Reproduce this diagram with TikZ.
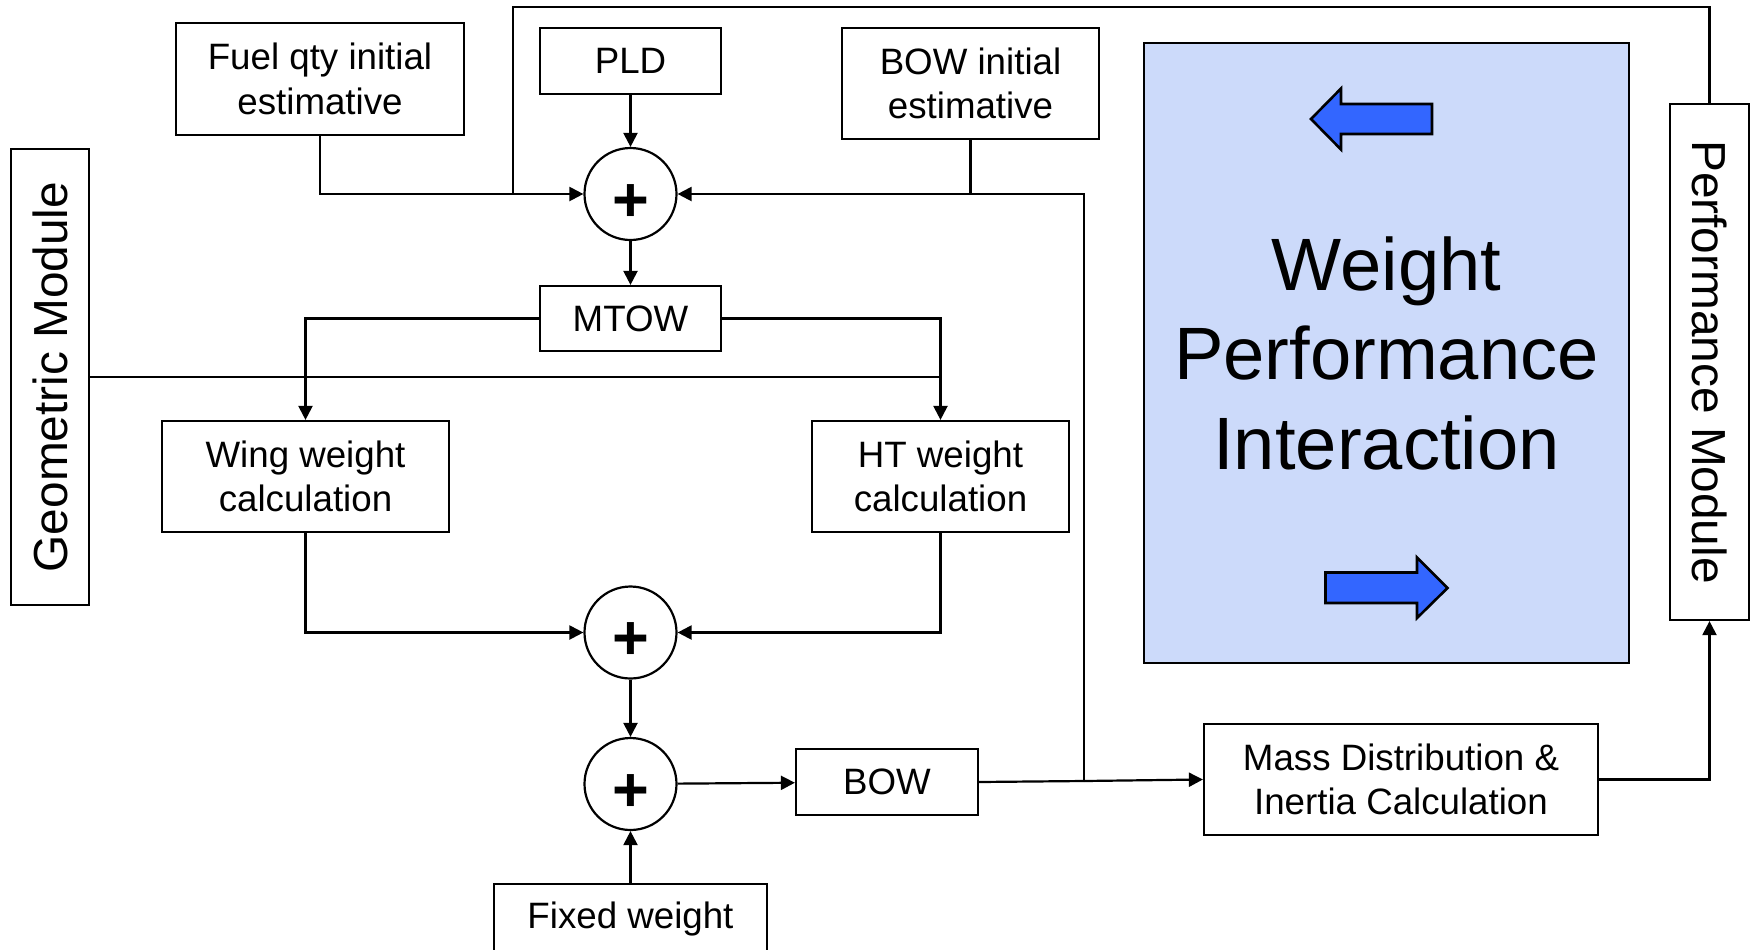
\documentclass[tikz,border=0pt]{standalone}
\usepackage{fontspec}
\setmainfont{Liberation Sans}
\usetikzlibrary{arrows.meta}

\definecolor{panelblue}{RGB}{204,218,250}
\definecolor{arrowblue}{RGB}{51,102,255}

\tikzset{
  box/.style={draw, line width=1.1pt, inner sep=0pt, align=center, fill=white,
              font=\fontsize{18.35}{22.35}\selectfont},
  module/.style={box, font=\fontsize{23.9}{28}\selectfont},
  sum/.style={draw, circle, line width=1.1pt, inner sep=0pt, minimum size=46pt, fill=white,
              font=\fontsize{31.5}{31.5}\selectfont\bfseries},
  conn/.style={line width=1.1pt},
  flow/.style={conn, -{Triangle[length=7pt,width=7pt]}},
  panel/.style={draw, line width=1.1pt, fill=panelblue, inner sep=0pt, align=center,
                font=\fontsize{37.1}{44.75}\selectfont},
  fatarrow/.style={draw=black, line width=1.3pt, fill=arrowblue, line join=miter},
}
% plus sign with zero height, lowered so it sits a little below the circle centre
\newcommand{\plussign}{\raisebox{-13.7pt}[0pt][0pt]{+}}

\begin{document}
\begin{tikzpicture}[x=0.5pt, y=-0.5pt]
\useasboundingbox (0,0) rectangle (1753,949);

% input boxes and summing junctions
\node[box, minimum width=144pt, minimum height=56pt] (fuel) at (320,79) {Fuel qty initial\\estimative};
\node[box, minimum width=90.5pt, minimum height=33pt] (pld) at (630.5,61) {PLD};
\node[box, minimum width=128.5pt, minimum height=55.5pt] (bowi) at (970.5,83.5) {BOW initial\\estimative};
\node[sum] (c1) at (630.5,194) {\plussign};
\node[box, minimum width=90.5pt, minimum height=32.5pt] (mtow) at (630.5,318.5) {MTOW};
\node[module, rotate=90, minimum width=228pt, minimum height=39pt] (geo) at (50,377) {Geometric Module};
\node[box, minimum width=143.5pt, minimum height=55.5pt] (wing) at (305.5,476.5) {Wing weight\\calculation};
\node[box, minimum width=128.5pt, minimum height=55.5pt] (ht) at (940.5,476.5) {HT weight\\calculation};
\node[sum] (c2) at (630.5,632.5) {\plussign};
\node[sum] (c3) at (630.5,784) {\plussign};
\node[box, minimum width=91pt, minimum height=33pt] (bow) at (887,782) {BOW};
\node[box, minimum width=136.5pt, minimum height=35pt] (fixed) at (630.5,919) {Fixed weight};
\node[box, minimum width=197pt, minimum height=55.5pt] (mass) at (1401,779.5) {Mass Distribution \&\\Inertia Calculation};
\node[module, rotate=-90, minimum width=258pt, minimum height=39.5pt] (perf) at (1709.5,362) {Performance Module};

% interaction panel with its two block arrows
\node[panel, minimum width=242.5pt, minimum height=310pt] (wpi) at (1386.5,353) {Weight\\Performance\\Interaction};
\draw[fatarrow] (1311,119) -- (1341,88.5) -- (1341,104) -- (1432,104) -- (1432,134)
  -- (1341,134) -- (1341,149.5) -- cycle;
\draw[fatarrow] (1325.5,572.5) -- (1417,572.5) -- (1417,557.5) -- (1447.5,588)
  -- (1417,618) -- (1417,603) -- (1325.5,603) -- cycle;

% connectors
\coordinate (fbtop) at (513,7);
\coordinate (J) at (1084,781);

\draw[flow] (fuel.south) |- (c1.west);
\draw[conn] (perf.west) |- (fbtop) -- (fbtop |- c1.west);
\draw[conn] (bowi.south) -- (bowi.south |- c1.east);
\draw[flow] (pld) -- (c1);
\draw[flow] (c1) -- (mtow);
\draw[flow] (mtow.west) -| (wing.north);
\draw[flow] (mtow.east) -| (ht.north);
\draw[conn] (geo.south) -- (geo.south -| ht.north);
\draw[flow] (wing.south) |- (c2.west);
\draw[flow] (ht.south) |- (c2.east);
\draw[flow] (c2) -- (c3);
\draw[flow] (fixed) -- (c3);
\draw[flow] (c3) -- (bow);
\draw[conn] (bow.east) -- (J);
\draw[flow] (J) -- (mass.west);
\draw[flow] (J) |- (c1.east);
\draw[flow] (mass.east) -| (perf.east);
\end{tikzpicture}
\end{document}
